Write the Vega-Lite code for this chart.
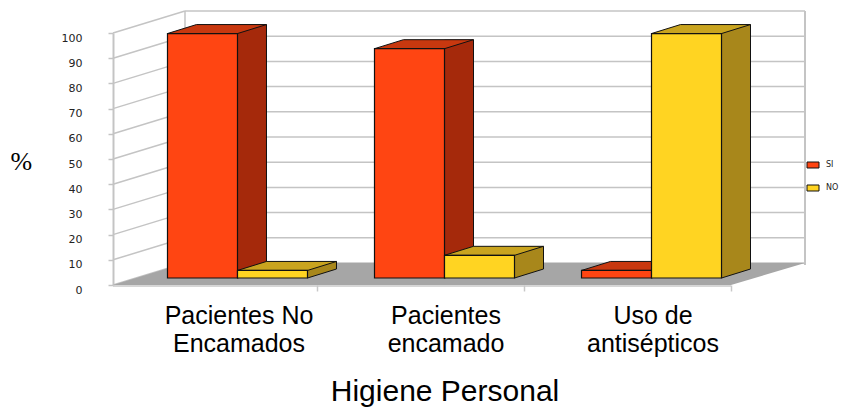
{
  "$schema": "https://vega.github.io/schema/vega-lite/v6.json",
  "width": 621,
  "height": 252,
  "autosize": {"type": "none"},
  "padding": {"left": 134, "top": 33, "right": 89, "bottom": 123},
  "background": "white",
  "config": {"view": {"stroke": null}, "font": "Liberation Sans"},
  "datasets": {
    "higiene": [
      {"categoria": "Pacientes No Encamados", "respuesta": "SI", "porcentaje": 97},
      {"categoria": "Pacientes No Encamados", "respuesta": "NO", "porcentaje": 3},
      {"categoria": "Pacientes encamado", "respuesta": "SI", "porcentaje": 91},
      {"categoria": "Pacientes encamado", "respuesta": "NO", "porcentaje": 9},
      {"categoria": "Uso de antisépticos", "respuesta": "SI", "porcentaje": 3},
      {"categoria": "Uso de antisépticos", "respuesta": "NO", "porcentaje": 97}
    ],
    "escala": [
      {"v": 0}, {"v": 10}, {"v": 20}, {"v": 30}, {"v": 40}, {"v": 50},
      {"v": 60}, {"v": 70}, {"v": 80}, {"v": 90}, {"v": 100}
    ],
    "unico": [{}]
  },
  "layer": [
    {
      "data": {"name": "escala"},
      "mark": {"type": "rule", "color": "#c4c4c4", "strokeWidth": 1.5, "xOffset": -124.5, "x2Offset": -52.5, "y2Offset": -22},
      "encoding": {
        "x": {"datum": "Pacientes No Encamados", "type": "nominal", "scale": {"type": "band"}, "axis": null},
        "x2": {"datum": "Pacientes No Encamados"},
        "y": {"field": "v", "type": "quantitative", "axis": null},
        "y2": {"field": "v"}
      }
    },
    {
      "data": {"name": "escala"},
      "mark": {"type": "rule", "color": "#c4c4c4", "strokeWidth": 1.5, "xOffset": -52.5, "x2Offset": 153.5, "yOffset": -22, "y2Offset": -22},
      "encoding": {
        "x": {"datum": "Pacientes No Encamados", "type": "nominal", "scale": {"type": "band"}, "axis": null},
        "x2": {"datum": "Uso de antisépticos"},
        "y": {"field": "v", "type": "quantitative", "axis": null},
        "y2": {"field": "v"}
      }
    },
    {
      "data": {"name": "unico"},
      "mark": {"type": "rule", "color": "#c4c4c4", "strokeWidth": 1.5, "xOffset": -52.5, "yOffset": -22, "y2Offset": -22},
      "encoding": {
        "x": {"datum": "Pacientes No Encamados", "type": "nominal", "scale": {"type": "band"}, "axis": null},
        "y": {"datum": 0, "type": "quantitative", "axis": null},
        "y2": {"datum": 100}
      }
    },
    {
      "data": {"name": "unico"},
      "mark": {"type": "rule", "color": "#c4c4c4", "strokeWidth": 2, "xOffset": 153.5, "yOffset": -20, "y2Offset": -22},
      "encoding": {
        "x": {"datum": "Uso de antisépticos", "type": "nominal", "scale": {"type": "band"}, "axis": null},
        "y": {"datum": 0, "type": "quantitative", "axis": null},
        "y2": {"datum": 100}
      }
    },
    {
      "data": {"name": "unico"},
      "mark": {"type": "point", "shape": "M-124.5,0L493.5,0L567.5,-22L-52.5,-22Z", "size": 4, "filled": true, "fill": "#a6a6a6", "strokeWidth": 0, "opacity": 1},
      "encoding": {
        "x": {"datum": "Pacientes No Encamados", "type": "nominal", "scale": {"type": "band"}, "axis": null},
        "y": {"datum": 0, "type": "quantitative", "axis": null}
      }
    },
    {
      "data": {"name": "unico"},
      "mark": {"type": "rule", "color": "#c8c8c8", "strokeWidth": 1.5, "xOffset": -124.5, "x2Offset": 79.5, "yOffset": 1},
      "encoding": {
        "x": {"datum": "Pacientes No Encamados", "type": "nominal", "scale": {"type": "band"}, "axis": null},
        "x2": {"datum": "Uso de antisépticos"},
        "y": {"datum": 0, "type": "quantitative", "axis": null}
      }
    },
    {
      "data": {"name": "higiene"},
      "transform": [{"filter": "datum.respuesta == 'SI'"}],
      "mark": {"type": "bar", "color": "#a5290b", "width": 29, "xOffset": 14.5, "yOffset": -16, "y2Offset": -16},
      "encoding": {
        "x": {"field": "categoria", "type": "nominal", "axis": null},
        "y": {"field": "porcentaje", "type": "quantitative", "stack": null, "axis": null},
        "y2": {"datum": 0}
      }
    },
    {
      "data": {"name": "higiene"},
      "transform": [{"filter": "datum.respuesta == 'NO'"}],
      "mark": {"type": "bar", "color": "#a8871b", "width": 29, "xOffset": 84.5, "yOffset": -16, "y2Offset": -16},
      "encoding": {
        "x": {"field": "categoria", "type": "nominal", "axis": null},
        "y": {"field": "porcentaje", "type": "quantitative", "stack": null, "axis": null},
        "y2": {"datum": 0}
      }
    },
    {
      "data": {"name": "higiene"},
      "mark": {"type": "point", "shape": "M35,-16L35,-7L64,-16", "size": 4, "filled": true, "opacity": 1, "stroke": "#111111", "strokeWidth": 1},
      "encoding": {
        "x": {"field": "categoria", "type": "nominal", "axis": null},
        "xOffset": {"field": "respuesta", "type": "nominal"},
        "y": {"datum": 0, "type": "quantitative", "axis": null},
        "color": {"field": "respuesta", "type": "nominal", "scale": {"domain": ["SI", "NO"], "range": ["#a5290b", "#a8871b"]}, "legend": null}
      }
    },
    {
      "data": {"name": "higiene"},
      "transform": [{"filter": "datum.respuesta == 'SI'"}],
      "mark": {"type": "rule", "color": "#111111", "strokeWidth": 1, "xOffset": 29, "yOffset": -16, "y2Offset": -16},
      "encoding": {
        "x": {"field": "categoria", "type": "nominal", "axis": null},
        "y": {"field": "porcentaje", "type": "quantitative", "stack": null, "axis": null},
        "y2": {"datum": 0}
      }
    },
    {
      "data": {"name": "higiene"},
      "transform": [{"filter": "datum.respuesta == 'NO'"}],
      "mark": {"type": "rule", "color": "#111111", "strokeWidth": 1, "xOffset": 99, "yOffset": -16, "y2Offset": -16},
      "encoding": {
        "x": {"field": "categoria", "type": "nominal", "axis": null},
        "y": {"field": "porcentaje", "type": "quantitative", "stack": null, "axis": null},
        "y2": {"datum": 0}
      }
    },
    {
      "data": {"name": "higiene"},
      "mark": {"type": "point", "shape": "M-35,0L35,0L64,-9L-6,-9Z", "size": 4, "filled": true, "opacity": 1, "yOffset": -7, "stroke": "#111111", "strokeWidth": 1},
      "encoding": {
        "x": {"field": "categoria", "type": "nominal", "axis": null},
        "xOffset": {"field": "respuesta", "type": "nominal"},
        "y": {"field": "porcentaje", "type": "quantitative", "stack": null, "axis": null},
        "color": {"field": "respuesta", "type": "nominal", "scale": {"domain": ["SI", "NO"], "range": ["#c8380f", "#c9a41f"]}, "legend": null}
      }
    },
    {
      "data": {"name": "higiene"},
      "mark": {"type": "bar", "yOffset": -7, "y2Offset": -7, "stroke": "#111111", "strokeWidth": 1.2},
      "encoding": {
        "x": {
          "field": "categoria",
          "type": "nominal",
          "sort": null,
          "scale": {"type": "band", "domain": ["Pacientes No Encamados", "Pacientes encamado", "Uso de antisépticos"], "paddingInner": 0.3237, "paddingOuter": 0.1618},
          "axis": {
            "title": "Higiene Personal",
            "titleFont": "Liberation Sans",
            "titleFontSize": 30,
            "titleFontWeight": "normal",
            "titleColor": "#000000",
            "titleX": 310.5,
            "titleY": 115,
            "titleAlign": "center",
            "titleBaseline": "alphabetic",
            "labelAngle": 0,
            "labelAlign": "center",
            "labelFont": "Liberation Sans",
            "labelFontSize": 25,
            "labelColor": "#000000",
            "labelLineHeight": 28.5,
            "labelPadding": 12,
            "labelOverlap": false,
            "labelOffset": -78.5,
            "tickOffset": 79.5,
            "labelExpr": "datum.label == 'Pacientes No Encamados' ? ['Pacientes No', 'Encamados'] : datum.label == 'Pacientes encamado' ? ['Pacientes', 'encamado'] : ['Uso de', 'antisépticos']",
            "domain": false,
            "grid": false,
            "ticks": true,
            "tickSize": 6,
            "tickColor": "#c8c8c8",
            "tickWidth": 1.5
          }
        },
        "xOffset": {"field": "respuesta", "type": "nominal", "scale": {"domain": ["SI", "NO"], "paddingInner": 0, "paddingOuter": 0}},
        "y": {
          "field": "porcentaje",
          "type": "quantitative",
          "stack": null,
          "scale": {"domain": [0, 100], "nice": false, "zero": true},
          "axis": {
            "title": "%",
            "titleAngle": 0,
            "titleFont": "Liberation Serif",
            "titleFontSize": 26,
            "titleFontWeight": "normal",
            "titleColor": "#000000",
            "titleX": -103,
            "titleY": 136,
            "titleAlign": "left",
            "titleBaseline": "alphabetic",
            "values": [0, 10, 20, 30, 40, 50, 60, 70, 80, 90, 100],
            "offset": 21,
            "labelFont": "DejaVu Sans",
            "labelFontSize": 11,
            "labelColor": "#222222",
            "labelPadding": 26,
            "labelOffset": 5,
            "labelOverlap": false,
            "tickSize": 5,
            "tickColor": "#c4c4c4",
            "tickWidth": 1.5,
            "domainColor": "#c4c4c4",
            "domainWidth": 2,
            "grid": false
          }
        },
        "y2": {"datum": 0},
        "color": {
          "field": "respuesta",
          "type": "nominal",
          "scale": {"domain": ["SI", "NO"], "range": ["#ff4512", "#ffd422"]},
          "legend": {
            "orient": "none",
            "legendX": 675,
            "legendY": 128,
            "title": null,
            "padding": 0,
            "symbolType": "M-6,-3L6,-3L6,3L-6,3Z",
            "symbolSize": 4,
            "symbolStrokeColor": "#111111",
            "symbolStrokeWidth": 1,
            "labelFont": "DejaVu Sans",
            "labelFontSize": 8,
            "labelColor": "#222222",
            "labelOffset": 9,
            "rowPadding": 13
          }
        }
      }
    }
  ],
  "resolve": {
    "scale": {"color": "independent"},
    "axis": {"x": "independent", "y": "independent"}
  }
}
